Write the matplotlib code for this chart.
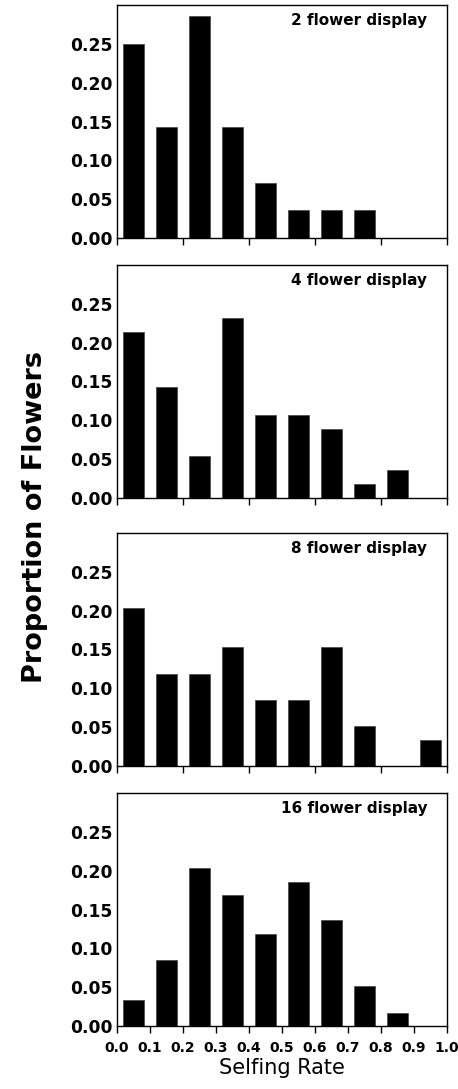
import numpy as np
import matplotlib
matplotlib.use("Agg")
import matplotlib.pyplot as plt
from matplotlib import font_manager

# selfing rate bins (centres) and proportions per display size
bins = [0.05, 0.15, 0.25, 0.35, 0.45, 0.55, 0.65, 0.75, 0.85, 0.95]
titles = ["2 flower display", "4 flower display", "8 flower display", "16 flower display"]
prop_2 = [0.250, 0.143, 0.286, 0.143, 0.071, 0.036, 0.036, 0.036, 0.0, 0.0]
prop_4 = [0.214, 0.143, 0.054, 0.232, 0.107, 0.107, 0.089, 0.018, 0.036, 0.0]
prop_8 = [0.203, 0.119, 0.119, 0.153, 0.085, 0.085, 0.153, 0.051, 0.0, 0.034]
prop_16 = [0.034, 0.085, 0.203, 0.169, 0.119, 0.186, 0.136, 0.051, 0.017, 0.0]
yticks = [0.00, 0.05, 0.10, 0.15, 0.20, 0.25]

names = {f.name for f in font_manager.fontManager.ttflist}
narrow = "Liberation Sans Narrow" if "Liberation Sans Narrow" in names else "DejaVu Sans"

plt.rcParams['font.family'] = ['DejaVu Sans']

fig = plt.figure(figsize=(4.58, 10.89), dpi=100)
tops = [0.9954, 0.7567, 0.5106, 0.2718]
h = 0.214
left, width = 0.2555, 0.7205

for i, (vals, title) in enumerate(zip([prop_2, prop_4, prop_8, prop_16], titles)):
    ax = fig.add_axes([left, tops[i] - h, width, h])
    ax.bar(bins, vals, width=0.061, color='black', edgecolor='#444444', linewidth=0.5)
    ax.set_xlim(0, 1.0)
    ax.set_ylim(0, 0.30)
    ax.set_yticks(yticks)
    ax.set_yticklabels(["%.2f" % v for v in yticks], fontsize=12.3, fontweight='bold')
    ax.tick_params(axis='y', length=0, pad=3)
    ax.text(0.94, 0.965, title, transform=ax.transAxes, ha='right', va='top',
            fontsize=11, fontweight='bold')
    for s in ax.spines.values():
        s.set_linewidth(1.0)
    if i < 3:
        ax.set_xticks(np.arange(0, 1.01, 0.2))
        ax.set_xticklabels([])
        ax.tick_params(axis='x', direction='out', length=5, width=1)
    else:
        xt = np.round(np.arange(0, 1.01, 0.1), 1)
        ax.set_xticks(xt)
        ax.set_xticklabels(["%.1f" % v for v in xt], fontsize=10,
                           fontweight='bold', family=narrow)
        ax.tick_params(axis='x', direction='out', length=5, width=1, pad=6)
        ax.set_xlabel("Selfing Rate", fontsize=15, labelpad=2)

fig.text(0.077, 0.525, "Proportion of Flowers", rotation=90, ha='center', va='center',
         fontsize=19.5, fontweight='bold')

fig.savefig("out.png", dpi=100)
